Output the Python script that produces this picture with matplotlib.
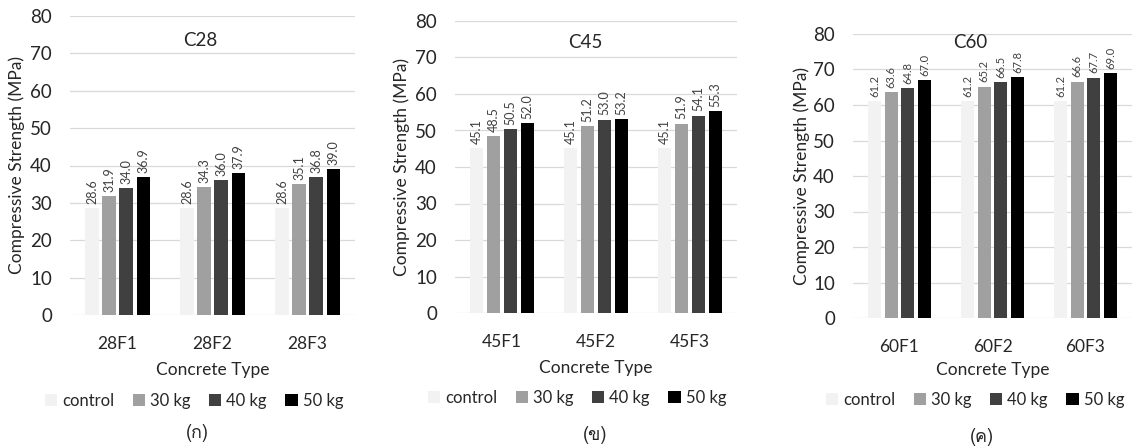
import numpy as np
import matplotlib
matplotlib.use("Agg")
import matplotlib.pyplot as plt
from matplotlib import font_manager
from fontTools.ttLib import TTFont

# ---------------------------------------------------------------
# Data (MPa)
# ---------------------------------------------------------------
series_names = ['control', '30 kg', '40 kg', '50 kg']
series_colors = ['#F2F2F2', '#A0A0A0', '#404040', '#000000']

c28_types = ['28F1', '28F2', '28F3']
c28_control = [28.6, 28.6, 28.6]
c28_30kg = [31.9, 34.3, 35.1]
c28_40kg = [34.0, 36.0, 36.8]
c28_50kg = [36.9, 37.9, 39.0]

c45_types = ['45F1', '45F2', '45F3']
c45_control = [45.1, 45.1, 45.1]
c45_30kg = [48.5, 51.2, 51.9]
c45_40kg = [50.5, 53.0, 54.1]
c45_50kg = [52.0, 53.2, 55.3]

c60_types = ['60F1', '60F2', '60F3']
c60_control = [61.2, 61.2, 61.2]
c60_30kg = [63.6, 65.2, 66.6]
c60_40kg = [64.8, 66.5, 67.7]
c60_50kg = [67.0, 67.8, 69.0]

titles = ['C28', 'C45', 'C60']
captions = ['(ก)', '(ข)', '(ค)']

W, H = 1133, 447


def fx(px):
    return px / W


def fy(py):
    return 1 - py / H


def thai_family():
    # first installed font that has Thai glyphs, for the panel captions
    for f in font_manager.fontManager.ttflist:
        try:
            font = TTFont(f.fname, fontNumber=0, lazy=True)
            if 0x0E01 in font.getBestCmap():
                return f.name
        except Exception:
            continue
    return 'DejaVu Sans'


plt.rcParams['font.family'] = ['Lato', 'DejaVu Sans']
thai = thai_family()

fig = plt.figure(figsize=(W / 100, H / 100), dpi=100)

# panel layout in pixels: left, top, right, bottom of the plot area
panels = [
    dict(types=c28_types, data=[c28_control, c28_30kg, c28_40kg, c28_50kg],
         box=(70, 16, 355, 315), ylab_x=25, title_xy=(200, 40),
         xlab_y=370, leg_xy=(194, 401), cap_xy=(197, 433), lab_fs=9),
    dict(types=c45_types, data=[c45_control, c45_30kg, c45_40kg, c45_50kg],
         box=(455, 21, 737, 313), ylab_x=410, title_xy=(585, 43),
         xlab_y=368, leg_xy=(577, 398), cap_xy=(595, 435), lab_fs=9),
    dict(types=c60_types, data=[c60_control, c60_30kg, c60_40kg, c60_50kg],
         box=(853, 34, 1132, 318), ylab_x=810, title_xy=(970, 42),
         xlab_y=370, leg_xy=(975, 400), cap_xy=(982, 437), lab_fs=8),
]

step = 0.179
offsets = (np.arange(4) - 1.5) * step

for i, p in enumerate(panels):
    l, t, r, b = p['box']
    ax = fig.add_axes([fx(l), fy(b), fx(r) - fx(l), fy(t) - fy(b)])
    x = np.arange(len(p['types']))
    for k in range(4):
        bars = ax.bar(x + offsets[k], p['data'][k], width=0.137,
                      color=series_colors[k], label=series_names[k], zorder=3)
        ax.bar_label(bars, fmt='%.1f', rotation=90, padding=3,
                     fontsize=p['lab_fs'], color='#404040')

    ax.set_xlim(-0.5, 2.5)
    ax.set_ylim(0, 80)
    ax.set_yticks(range(0, 81, 10))
    ax.set_xticks(x)
    ax.set_xticklabels(p['types'])
    ax.tick_params(axis='both', length=0, colors='#262626')
    ax.tick_params(axis='y', labelsize=13.5, pad=13)
    ax.tick_params(axis='x', labelsize=12.5, pad=15)
    ax.grid(axis='y', color='#D9D9D9', lw=0.9, zorder=0)
    for s in ax.spines.values():
        s.set_visible(False)

    ax.set_ylabel('Compressive Strength (MPa)', fontsize=12.5, color='#262626')
    ax.yaxis.set_label_coords((p['ylab_x'] - l) / (r - l), 0.5)

    fig.text(fx(p['title_xy'][0]), fy(p['title_xy'][1]), titles[i],
             fontsize=13.5, color='#262626', ha='center', va='center')
    fig.text(fx((l + r) / 2), fy(p['xlab_y']), 'Concrete Type',
             fontsize=12.5, color='#262626', ha='center', va='center')

    handles, labels = ax.get_legend_handles_labels()
    fig.legend(handles, labels, loc='center', ncol=4, frameon=False,
               bbox_to_anchor=(fx(p['leg_xy'][0]), fy(p['leg_xy'][1])),
               fontsize=12, handlelength=0.75, handleheight=0.75,
               handletextpad=0.3, columnspacing=1.1, labelcolor='#262626')

    fig.text(fx(p['cap_xy'][0]), fy(p['cap_xy'][1]), captions[i],
             fontsize=13, family=[thai, 'DejaVu Sans'], color='#262626',
             ha='center', va='center')

fig.savefig('out.png', dpi=100)
